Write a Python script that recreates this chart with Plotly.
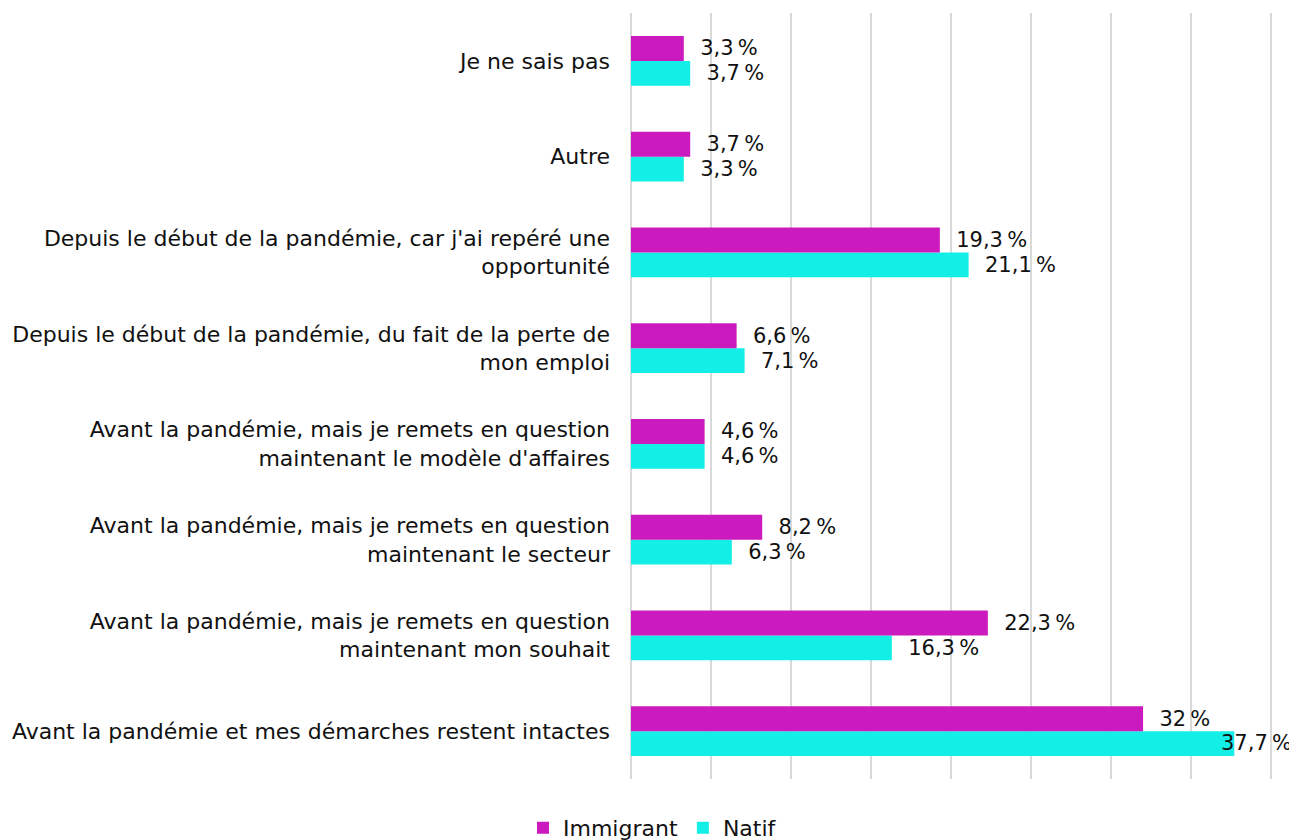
import plotly.graph_objects as go

categories = [
    "Avant la pandémie et mes démarches restent intactes",
    "Avant la pandémie, mais je remets en question<br>maintenant mon souhait",
    "Avant la pandémie, mais je remets en question<br>maintenant le secteur",
    "Avant la pandémie, mais je remets en question<br>maintenant le modèle d'affaires",
    "Depuis le début de la pandémie, du fait de la perte de<br>mon emploi",
    "Depuis le début de la pandémie, car j'ai repéré une<br>opportunité",
    "Autre",
    "Je ne sais pas",
]
immigrant = [32, 22.3, 8.2, 4.6, 6.6, 19.3, 3.7, 3.3]
natif = [37.7, 16.3, 6.3, 4.6, 7.1, 21.1, 3.3, 3.7]

C_IMM = "#CB1BBF"
C_NAT = "#13EFE6"
FONT = "DejaVu Sans"
FS_TICK = 22
FS_LBL = 21
FS_LEG = 22


def fmt(v, lead="  "):
    return lead + (f"{v:g}".replace(".", ",")) + "\u202f%"


imax = natif.index(max(natif))
natif_text = ["" if i == imax else fmt(v) for i, v in enumerate(natif)]
imm_text = [fmt(v) for v in immigrant]

fig = go.Figure()
fig.add_trace(go.Bar(
    y=categories, x=natif, name="Natif", orientation="h",
    marker=dict(color=C_NAT, line=dict(width=0)),
    text=natif_text, textposition="outside", constraintext="none",
    textfont=dict(size=FS_LBL, color="#111111", family=FONT),
    cliponaxis=False, legendrank=2,
))
fig.add_trace(go.Bar(
    y=categories, x=immigrant, name="Immigrant", orientation="h",
    marker=dict(color=C_IMM, line=dict(width=0)),
    text=imm_text, textposition="outside", constraintext="none",
    textfont=dict(size=FS_LBL, color="#111111", family=FONT),
    cliponaxis=False, legendrank=1,
))

# label of the longest bar overlaps the bar end (as in the reference)
fig.add_annotation(
    x=natif[imax], y=categories[imax], xref="x", yref="y",
    text=fmt(natif[imax], ""), showarrow=False,
    xanchor="left", yanchor="middle", xshift=-15, yshift=-12,
    font=dict(size=FS_LBL, color="#111111", family=FONT),
)

fig.update_layout(
    width=1289, height=840,
    barmode="group", bargap=0.48, bargroupgap=0,
    plot_bgcolor="white", paper_bgcolor="white",
    font=dict(family=FONT, size=FS_TICK, color="#111111"),
    margin=dict(l=623, r=24, t=5, b=69, autoexpand=False),
    xaxis=dict(range=[0, 40.12], dtick=5, showticklabels=False,
               showgrid=True, gridcolor="#D9D9D9", gridwidth=2,
               zeroline=True, zerolinecolor="#D9D9D9", zerolinewidth=2,
               showline=False, fixedrange=True),
    yaxis=dict(categoryorder="array", categoryarray=categories,
               showgrid=False, ticks="", ticklabelstandoff=20,
               tickfont=dict(size=FS_TICK, family=FONT)),
    legend=dict(orientation="h", xref="container", yref="container",
                x=0.5, xanchor="center", y=0.024, yanchor="middle",
                font=dict(size=FS_LEG, family=FONT), itemwidth=30,
                tracegroupgap=0),
    showlegend=True,
)

fig.write_html("out.html")
